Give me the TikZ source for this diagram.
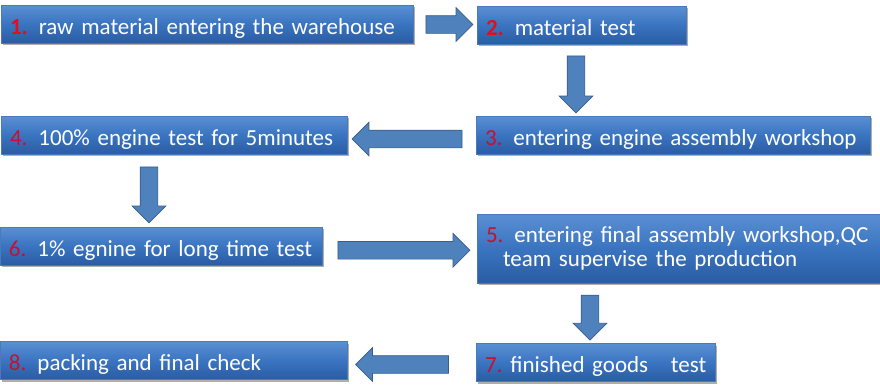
\documentclass[tikz,border=0pt]{standalone}
\usepackage{fontspec}
\setmainfont{Carlito}
\usepackage{xcolor}
\usetikzlibrary{shapes.arrows,positioning,calc,shadows}

\definecolor{boxtop}{HTML}{5A8FD3}
\definecolor{boxmid}{HTML}{3A74C0}
\definecolor{boxbot}{HTML}{2A5CA3}
\definecolor{boxedge}{HTML}{4A7BB8}
\definecolor{arrowfill}{HTML}{4F81BD}
\definecolor{arrowedge}{HTML}{385D8A}
\definecolor{numred}{HTML}{E0101A}
\definecolor{numdark}{HTML}{C8102E}

\newcommand\stepnoA[1]{\textbf{\textcolor{numred}{#1}}\hspace{11pt}}
\newcommand\stepnoB[1]{\textcolor{numdark}{#1}\hspace{11pt}}

\tikzset{
  stepbox/.style={draw=boxedge, line width=0.6pt, top color=boxtop, bottom color=boxbot,
    middle color=boxmid, text=white, font=\fontsize{23}{24}\selectfont, align=left,
    inner xsep=9pt, inner ysep=0pt, minimum height=38pt,
    drop shadow={shadow xshift=1.5pt, shadow yshift=-2pt, opacity=.45, fill=black!70}},
  oneline/.style={stepbox, text height=23pt, text depth=3pt},
  blockarrow/.style={single arrow, draw=arrowedge, fill=arrowfill, line width=0.7pt,
    inner sep=8.5pt, single arrow head extend=8pt,
    single arrow tip angle=90, minimum height=#1}
}

\begin{document}
\begin{tikzpicture}[x=1pt,y=-1pt]
\useasboundingbox (0,0) rectangle (880,389);

% process steps
\node[oneline, text width=394pt] (b1) at (207,24) {\stepnoA{1.}raw material entering the warehouse};
\node[oneline, text width=191pt] (b2) at (581.5,25) {\stepnoA{2.}material test};
\node[oneline, text width=376pt] (b3) at (673,135) {\stepnoB{3.}entering engine assembly workshop};
\node[oneline, text width=328pt] (b4) at (174,135) {\stepnoB{4.}100\% engine test for 5minutes};
\node[oneline, text width=304pt] (b6) at (161,246) {\stepnoB{6.}1\% egnine for long time test};
\node[stepbox, text width=385pt, minimum height=69pt] (b5) at (678.5,248.5)
  {\stepnoB{5.}\mbox{entering final assembly workshop,QC}\\\hspace*{17pt}team supervise the production};
\node[oneline, text width=221pt] (b7) at (595.5,362.5) {\mbox{\textcolor{numdark}{7.}\hspace{8pt}finished goods\hspace{15pt} test}};
\node[oneline, text width=329pt] (b8) at (173.5,360.5) {\stepnoB{8.}packing and final check};

% arrows between steps
\node[blockarrow=47pt] (a12) at ($(b1.east)!.5!(b2.west)$) {};
\node[blockarrow=57pt, shape border rotate=270, xshift=-5.5pt] (a23) at ($(b2.south)!.5!(b2.south|-b3.north)$) {};
\node[blockarrow=110pt, shape border rotate=180, yshift=-4pt] (a34) at ($(b3.west)!.5!(b4.east)$) {};
\node[blockarrow=56pt, shape border rotate=270, xshift=-25pt] (a46) at ($(b4.south)!.5!(b4.south|-b6.north)$) {};
\node[blockarrow=132pt, yshift=-3pt] (a65) at ($(b6.east)!.5!(b5.west)$) {};
\node[blockarrow=45pt, shape border rotate=270, xshift=-5.5pt] (a57) at ($(b7.north)!.5!(b7.north|-b5.south)$) {};
\node[blockarrow=93pt, shape border rotate=180, xshift=-5pt, yshift=-3pt] (a78) at ($(b7.west)!.5!(b8.east)$) {};
\end{tikzpicture}
\end{document}
